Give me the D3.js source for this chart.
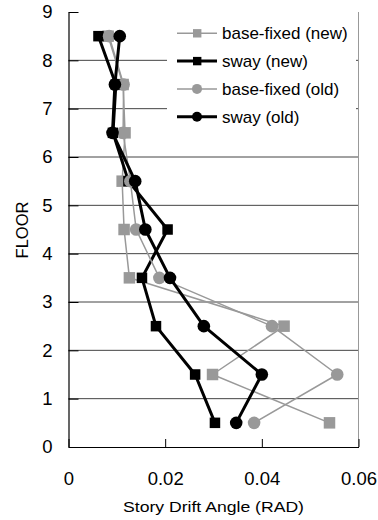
<!DOCTYPE html>
<html>
<head>
<meta charset="utf-8">
<script src="https://cdn.jsdelivr.net/npm/d3@7"></script>
<style>
  body { margin: 0; background: #fff; }
  text { font-family: Arial, "Liberation Sans", sans-serif; }
</style>
</head>
<body>
<div id="chart1"></div>
<script>
// DATA
const floors = [0.5, 1.5, 2.5, 3.5, 4.5, 5.5, 6.5, 7.5, 8.5];
const baseFixedNew = [0.0540, 0.0298, 0.0446, 0.0126, 0.0115, 0.0111, 0.0117, 0.0113, 0.0082];
const swayNew      = [0.0303, 0.0262, 0.0181, 0.0152, 0.0205, 0.0124, 0.0092, 0.0098, 0.0062];
const baseFixedOld = [0.0384, 0.0556, 0.0421, 0.0188, 0.0140, 0.0128, 0.0113, 0.0114, 0.0084];
const swayOld      = [0.0347, 0.0400, 0.0280, 0.0210, 0.0159, 0.0138, 0.0091, 0.0096, 0.0106];
const seriesNames = ["base-fixed (new)", "sway (new)", "base-fixed (old)", "sway (old)"];
const xTicks = [0, 0.02, 0.04, 0.06];
const yTicks = [0, 1, 2, 3, 4, 5, 6, 7, 8, 9];

const series = [
  {name: seriesNames[0], values: baseFixedNew, color: "#999999", width: 1.5, shape: "square"},
  {name: seriesNames[1], values: swayNew,      color: "#000000", width: 3,   shape: "square"},
  {name: seriesNames[2], values: baseFixedOld, color: "#999999", width: 1.5, shape: "circle"},
  {name: seriesNames[3], values: swayOld,      color: "#000000", width: 3,   shape: "circle"}
];

// SVG
const margin = {top: 12, right: 19.5, bottom: 73, left: 68.5};
const W = 378, H = 520;
const width = W - margin.left - margin.right;
const height = H - margin.top - margin.bottom;

const svg = d3.select("#chart1").append("svg")
    .attr("width", W)
    .attr("height", H);

const g = svg.append("g")
    .attr("transform", `translate(${margin.left},${margin.top})`);

// SCALE AND AXIS
const xs = d3.scaleLinear().domain([0, 0.06]).range([0, width]);
const ys = d3.scaleLinear().domain([0, 9]).range([height, 0]);

// gridlines
g.selectAll(".grid")
  .data(yTicks.filter(d => d > 0 && d < 9))
  .enter().append("line")
    .attr("x1", 0).attr("x2", width)
    .attr("y1", d => ys(d)).attr("y2", d => ys(d))
    .attr("stroke", "#444")
    .attr("stroke-width", 1);

// right border
g.append("line")
  .attr("x1", width).attr("x2", width)
  .attr("y1", 0).attr("y2", height)
  .attr("stroke", "#999")
  .attr("stroke-width", 1);

const xAxis = g.append("g")
    .attr("transform", `translate(0,${height})`)
    .call(d3.axisBottom(xs).tickValues(xTicks).tickSize(-8).tickSizeOuter(0).tickPadding(25)
      .tickFormat(d => d === 0 ? "0" : d3.format(".2f")(d)));

const yAxis = g.append("g")
    .call(d3.axisLeft(ys).tickValues(yTicks).tickSize(-10).tickSizeOuter(0).tickPadding(16)
      .tickFormat(d3.format("d")));

[xAxis, yAxis].forEach(a => {
  a.select(".domain").attr("stroke", "#000").attr("stroke-width", 1.2);
  a.selectAll(".tick line").attr("stroke", "#000");
  a.selectAll("text").style("font-size", "18.5px").attr("fill", "#000");
});

// axis labels
svg.append("text")
  .attr("x", margin.left + width / 2)
  .attr("y", 511.5)
  .attr("text-anchor", "middle")
  .attr("textLength", 181)
  .attr("lengthAdjust", "spacingAndGlyphs")
  .style("font-size", "15.5px")
  .text("Story Drift Angle (RAD)");

svg.append("text")
  .attr("transform", "rotate(-90)")
  .attr("x", -230)
  .attr("y", 22)
  .attr("dy", "0.36em")
  .attr("text-anchor", "middle")
  .style("font-size", "16.5px")
  .text("FLOOR");

// DRAW LINES
const line = d3.line()
  .x(d => xs(d.v))
  .y(d => ys(d.f));

series.forEach(s => {
  const pts = s.values.map((v, i) => ({v: v, f: floors[i]}));
  const sg = g.append("g");
  sg.append("path")
    .attr("fill", "none")
    .attr("stroke", s.color)
    .attr("stroke-width", s.width)
    .attr("stroke-linejoin", "round")
    .attr("d", line(pts));
  if (s.shape === "square") {
    const sz = s.color === "#000000" ? 10.5 : 11.5;
    sg.selectAll("rect").data(pts).enter().append("rect")
      .attr("x", d => xs(d.v) - sz / 2)
      .attr("y", d => ys(d.f) - sz / 2)
      .attr("width", sz).attr("height", sz)
      .attr("fill", s.color);
  } else {
    sg.selectAll("circle").data(pts).enter().append("circle")
      .attr("cx", d => xs(d.v))
      .attr("cy", d => ys(d.f))
      .attr("r", 6.3)
      .attr("fill", s.color);
  }
});

// LEGEND
svg.append("rect")
  .attr("x", 167).attr("y", 15)
  .attr("width", 189).attr("height", 120)
  .attr("fill", "#fff");

const legend = svg.selectAll("g.legend")
  .data(series)
  .enter().append("g")
  .attr("class", "legend")
  .attr("transform", (d, i) => `translate(177,${33.3 + i * 27.8})`);

legend.append("line")
  .attr("x1", 0).attr("x2", 40)
  .attr("stroke", d => d.color)
  .attr("stroke-width", d => d.width);

legend.each(function(d) {
  const el = d3.select(this);
  if (d.shape === "square") {
    el.append("rect").attr("x", 16).attr("y", -4.2).attr("width", 8.4).attr("height", 8.4).attr("fill", d.color);
  } else {
    el.append("circle").attr("cx", 20).attr("r", 5).attr("fill", d.color);
  }
});

legend.append("text")
  .attr("x", 45)
  .attr("dy", "0.35em")
  .style("font-size", "17px")
  .text(d => d.name);
</script>
</body>
</html>
